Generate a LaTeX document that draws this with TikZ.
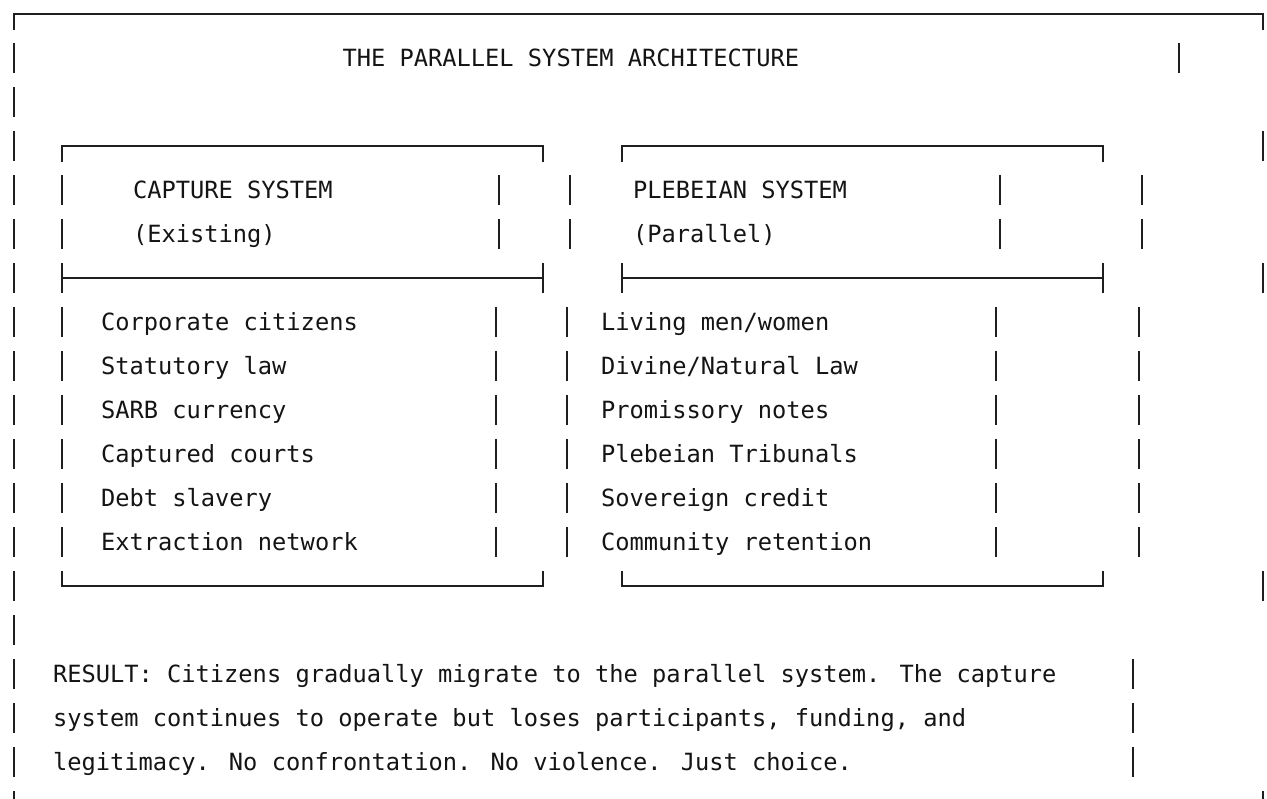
\documentclass[tikz,border=0pt]{standalone}
\usepackage{fontspec}
\newfontfamily\diagmono{DejaVu Sans Mono}
\begin{document}
\begin{tikzpicture}[x=1pt,y=-1pt,
  frame/.style={line width=2.1pt, draw=black!88},
  txt/.style={anchor=base west, inner sep=0pt, outer sep=0pt,
    font=\diagmono\fontsize{23.7}{28}\selectfont, text=black!92}]
\useasboundingbox (0,0) rectangle (1267,799);
\fill[white] (0,0) rectangle (1267,799);

% outer frame: top border and bottom-border corners (cut by page edge)
\draw[frame] (14,30) -- (14,14) -- (1263,14) -- (1263,30);
\draw[frame] (14,791) -- (14,806);
\draw[frame] (1263,791) -- (1263,806);

% left outer bars, rows 1..17
\foreach \r in {1,...,17}
  \draw[frame] (14,{14+44*\r-15}) -- (14,{14+44*\r+15});

% other vertical bar segments (x / row)
\foreach \x/\r in {1179/1, 1263/3,
  62/4, 499/4, 570/4, 1000/4, 1142/4,
  62/5, 499/5, 570/5, 1000/5, 1142/5,
  1263/6,
  62/7, 496/7, 567/7, 996/7, 1139/7,
  62/8, 496/8, 567/8, 996/8, 1139/8,
  62/9, 496/9, 567/9, 996/9, 1139/9,
  62/10, 496/10, 567/10, 996/10, 1139/10,
  62/11, 496/11, 567/11, 996/11, 1139/11,
  62/12, 496/12, 567/12, 996/12, 1139/12,
  1263/13, 1133/15, 1133/16, 1133/17}
  \draw[frame] (\x,{14+44*\r-15}) -- (\x,{14+44*\r+15});

% the two inner boxes
\foreach \a/\b in {62/543, 622/1103}{
  \draw[frame] (\a,162) -- (\a,146) -- (\b,146) -- (\b,162);
  \draw[frame] (\a,263) -- (\a,293);
  \draw[frame] (\b,263) -- (\b,293);
  \draw[frame] (\a,278) -- (\b,278);
  \draw[frame] (\a,571) -- (\a,586) -- (\b,586) -- (\b,571);
}

% texts
\node[txt] (title) at (342.5,66.7) {THE PARALLEL SYSTEM ARCHITECTURE};

\node[txt] (capA) at (133,198.7) {CAPTURE SYSTEM};
\node[txt] (capB) at (133,242.7) {(Existing)};
\node[txt] (pleA) at (633,198.7) {PLEBEIAN SYSTEM};
\node[txt] (pleB) at (633,242.7) {(Parallel)};

\node[txt] (l1) at (101,330.7) {Corporate citizens};
\node[txt] (l2) at (101,374.7) {Statutory law};
\node[txt] (l3) at (101,418.7) {SARB currency};
\node[txt] (l4) at (101,462.7) {Captured courts};
\node[txt] (l5) at (101,506.7) {Debt slavery};
\node[txt] (l6) at (101,550.7) {Extraction network};

\node[txt] (r1) at (601,330.7) {Living men/women};
\node[txt] (r2) at (601,374.7) {Divine/Natural Law};
\node[txt] (r3) at (601,418.7) {Promissory notes};
\node[txt] (r4) at (601,462.7) {Plebeian Tribunals};
\node[txt] (r5) at (601,506.7) {Sovereign credit};
\node[txt] (r6) at (601,550.7) {Community retention};

\node[txt] (res1) at (53,682.7) {RESULT: Citizens gradually migrate to the parallel system. The capture};
\node[txt] (res2) at (53,726.7) {system continues to operate but loses participants, funding, and};
\node[txt] (res3) at (53,770.7) {legitimacy. No confrontation. No violence. Just choice.};
\end{tikzpicture}
\end{document}
